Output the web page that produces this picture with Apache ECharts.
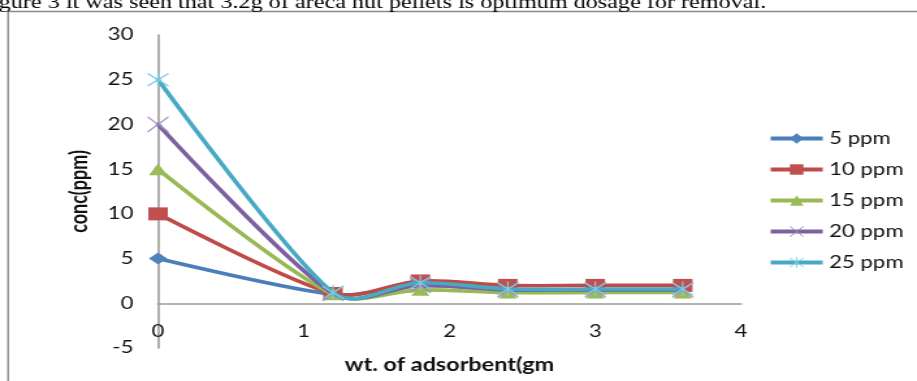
<!DOCTYPE html>
<html>
<head>
<meta charset="utf-8">
<script src="https://cdn.jsdelivr.net/npm/echarts@6/dist/echarts.min.js"></script>
<style>
  html, body { margin: 0; padding: 0; background: #fff; overflow: hidden; }
  #wrap { width: 917px; height: 381px; overflow: hidden; position: relative; background: #fff; }
  /* the figure is laid out narrower and widened to the page width */
  #chart { width: 705px; height: 381px; transform: scaleX(1.3007); transform-origin: 0 0; }
</style>
</head>
<body>
<div id="wrap"><div id="chart"></div></div>
<script>
const STRETCH = 1.3007;

// Weight of adsorbent (g) at each measurement
const weights = [0, 1.2, 1.8, 2.4, 3.0, 3.6];

// Residual concentration (ppm) for each initial concentration
const conc5ppm  = [5,  1.0, 2.0, 1.5, 1.5, 1.5];
const conc10ppm = [10, 1.1, 2.5, 2.0, 2.0, 2.0];
const conc15ppm = [15, 1.0, 1.5, 1.2, 1.2, 1.2];
const conc20ppm = [20, 1.1, 2.0, 1.5, 1.5, 1.5];
const conc25ppm = [25, 1.2, 2.3, 1.6, 1.6, 1.6];

const seriesNames = ['5 ppm', '10 ppm', '15 ppm', '20 ppm', '25 ppm'];
const seriesValues = [conc5ppm, conc10ppm, conc15ppm, conc20ppm, conc25ppm];

// Axis ticks
const xTicks = [0, 1, 2, 3, 4];
const yTicks = [-5, 0, 5, 10, 15, 20, 25, 30];

const caption = 'gure 3 it was seen that 3.2g of areca nut pellets is optimum dosage for removal.';
const xTitle = 'wt. of adsorbent(gm';
const yTitle = 'conc(ppm)';

const lineColors   = ['#4A7EBB', '#BE4B48', '#98B954', '#7D60A0', '#46AAC5'];
const markerColors = ['#4F81BD', '#C0504D', '#9BBB59', '#A28BC4', '#7ECBDF'];
const markerShapes = [
  'diamond',
  'rect',
  'triangle',
  'path://M0,0L10,10M10,0L0,10',
  'path://M0,0L10,10M10,0L0,10M5,-1L5,11'
];
const markerSizes = [[14, 12], [15, 13], [14, 12], [16, 15], [16, 15]];
const strokedMarker = [false, false, false, true, true];

const LABEL_FONT = 'Lato';

// Bezier handles for a smoothed polyline: Catmull-Rom tangents,
// each handle limited to a third of its segment (measured on screen)
function handles(pts) {
  const n = pts.length, hin = [], hout = [];
  const scr = pts.map(p => [p[0] * STRETCH, p[1]]);
  const len = (a, b) => Math.hypot(b[0] - a[0], b[1] - a[1]);
  for (let k = 0; k < n; k++) {
    const p = pts[k];
    if (k === 0 || k === n - 1) { hin[k] = p.slice(); hout[k] = p.slice(); continue; }
    const a = scr[k - 1], b = scr[k + 1], c = scr[k];
    let tx = (b[0] - a[0]) / 6, ty = (b[1] - a[1]) / 6;
    const tl = Math.hypot(tx, ty) || 1;
    const fIn = Math.min(1, len(a, c) / 3 / tl);
    const fOut = Math.min(1, len(c, b) / 3 / tl);
    hin[k]  = [p[0] - tx * fIn / STRETCH,  p[1] - ty * fIn];
    hout[k] = [p[0] + tx * fOut / STRETCH, p[1] + ty * fOut];
  }
  return { hin, hout };
}

function curveRenderer(values, color) {
  return function (params, api) {
    const i = params.dataIndex;
    if (i >= weights.length - 1) return null;
    const pts = weights.map((w, k) => api.coord([w, values[k]]));
    const h = handles(pts);
    const p0 = pts[i], p1 = pts[i + 1];
    return {
      type: 'bezierCurve',
      shape: {
        x1: p0[0], y1: p0[1], x2: p1[0], y2: p1[1],
        cpx1: h.hout[i][0], cpy1: h.hout[i][1],
        cpx2: h.hin[i + 1][0], cpy2: h.hin[i + 1][1]
      },
      style: { fill: null, stroke: color, lineWidth: 3.6, lineCap: 'round' }
    };
  };
}

const series = [];
seriesNames.forEach((name, k) => {
  const data = weights.map((w, j) => [w, seriesValues[k][j]]);
  series.push({
    type: 'custom',
    coordinateSystem: 'cartesian2d',
    silent: true,
    z: 2 + 2 * k,
    data: data,
    encode: { x: 0, y: 1 },
    renderItem: curveRenderer(seriesValues[k], lineColors[k])
  });
  series.push({
    type: 'line',
    name: name,
    z: 3 + 2 * k,
    data: data,
    symbol: markerShapes[k],
    symbolSize: markerSizes[k],
    showAllSymbol: true,
    lineStyle: { opacity: 0, color: lineColors[k] },
    itemStyle: strokedMarker[k]
      ? { color: markerColors[k], borderColor: markerColors[k], borderWidth: 1.2 }
      : { color: markerColors[k], borderWidth: 0 },
    emphasis: { disabled: true },
    silent: true
  });
});

const chart = echarts.init(document.getElementById('chart'), null, { renderer: 'canvas' });
chart.setOption({
  animation: false,
  backgroundColor: '#fff',
  graphic: [
    {
      type: 'rect', z: -10, silent: true,
      shape: { x: 6.2, y: 11.5, width: 1000, height: 500 },
      style: { fill: '#fff', stroke: '#8a8a8a', lineWidth: 1.4 }
    },
    {
      type: 'text', z: -5, silent: true, left: -1, top: -6,
      style: { text: caption, font: '18.6px "Liberation Serif"', fill: '#000' }
    }
  ],
  grid: {
    left: 121.5, right: 135.3, top: 35, bottom: 33,
    containLabel: false, outerBoundsMode: 'none'
  },
  legend: {
    orient: 'vertical',
    left: 585.5,
    top: 125,
    itemWidth: 40,
    itemHeight: 13,
    itemGap: 14,
    textStyle: { fontFamily: LABEL_FONT, fontSize: 17, color: '#111' },
    data: seriesNames.map((name, k) => ({
      name: name,
      lineStyle: { color: lineColors[k], width: 4, opacity: 1 },
      itemStyle: strokedMarker[k] ? { borderWidth: 1 } : {}
    }))
  },
  xAxis: {
    type: 'value',
    min: xTicks[0], max: xTicks[xTicks.length - 1], interval: 1,
    axisLine: { onZero: true, lineStyle: { color: '#9a9a9a', width: 1.6 } },
    axisTick: { show: false },
    splitLine: { show: false },
    axisLabel: { inside: true, margin: 8, fontFamily: LABEL_FONT, fontSize: 17, color: '#111' },
    name: xTitle,
    nameLocation: 'middle',
    nameGap: 8,
    nameTextStyle: { fontFamily: LABEL_FONT, fontWeight: 'bold', fontSize: 18, color: '#111' }
  },
  yAxis: {
    type: 'value',
    min: yTicks[0], max: yTicks[yTicks.length - 1], interval: 5,
    axisLine: { show: true, onZero: false, lineStyle: { color: '#9a9a9a', width: 1.6 } },
    axisTick: { show: false },
    splitLine: { show: false },
    axisLabel: { margin: 19, fontFamily: LABEL_FONT, fontSize: 17, color: '#111' },
    name: yTitle,
    nameLocation: 'middle',
    nameRotate: 90,
    nameGap: 51,
    nameTextStyle: { fontFamily: LABEL_FONT, fontWeight: 'bold', fontSize: 18, color: '#111' }
  },
  series: series
});
</script>
</body>
</html>
